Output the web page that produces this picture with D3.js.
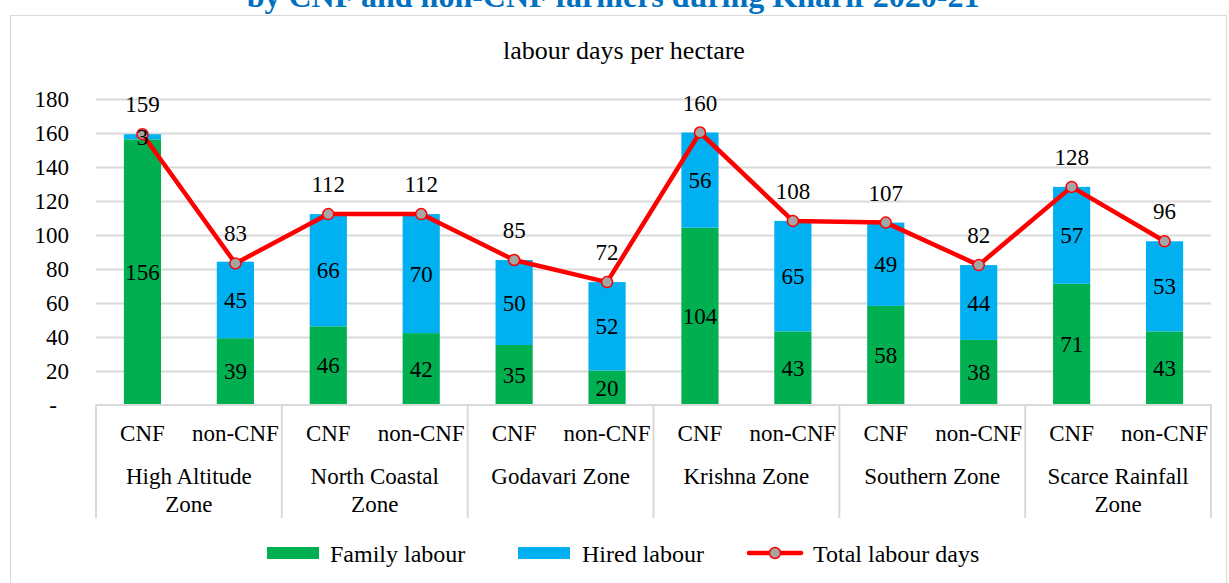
<!DOCTYPE html>
<html>
<head>
<meta charset="utf-8">
<script src="https://cdn.jsdelivr.net/npm/d3@7"></script>
<style>
  body { margin: 0; background: #fff; }
  svg { display: block; font-family: "Liberation Serif", "Times New Roman", serif; }
</style>
</head>
<body>
<svg id="chart" width="1229" height="583"></svg>
<script>
var zones = ["High Altitude Zone", "North Coastal Zone", "Godavari Zone",
             "Krishna Zone", "Southern Zone", "Scarce Rainfall Zone"];
var farmTypes = ["CNF", "non-CNF"];
// per zone: CNF then non-CNF
var family = [156, 39, 46, 42, 35, 20, 104, 43, 58, 38, 71, 43];
var hired  = [3, 45, 66, 70, 50, 52, 56, 65, 49, 44, 57, 53];
var total  = [159, 83, 112, 112, 85, 72, 160, 108, 107, 82, 128, 96];
var yTicks = [0, 20, 40, 60, 80, 100, 120, 140, 160, 180];

var green = "#00B050", blue = "#00B0F0", red = "#FF0000", grid = "#D9D9D9";

var svg = d3.select("#chart");

var plotLeft = 96, plotRight = 1211, plotTop = 98.5, plotBottom = 404.5;

var rows = [];
zones.forEach(function(z, i) {
  farmTypes.forEach(function(t, j) {
    var k = i * 2 + j;
    rows.push({zone: z, type: t, family: family[k], hired: hired[k], total: total[k]});
  });
});

var x0 = d3.scaleBand().domain(zones).range([plotLeft, plotRight]);
var x1 = d3.scaleBand().domain(farmTypes).range([0, x0.bandwidth()])
    .paddingInner(0.6).paddingOuter(0.3);
var y = d3.scaleLinear().domain([0, 180]).range([plotBottom, plotTop]);

function cx(d) { return x0(d.zone) + x1(d.type) + x1.bandwidth() / 2; }

// chart border
svg.append("rect")
    .attr("x", 10.5).attr("y", 15.5)
    .attr("width", 1216).attr("height", 600)
    .attr("fill", "none").attr("stroke", grid);

// title (clipped at the top)
svg.append("text")
    .attr("x", 613).attr("y", 7)
    .attr("text-anchor", "middle")
    .attr("font-size", 32).attr("font-weight", "bold")
    .attr("fill", "#0070C0")
    .text("by CNF and non-CNF farmers during Kharif 2020-21");

svg.append("text")
    .attr("x", 624).attr("y", 59)
    .attr("text-anchor", "middle")
    .attr("font-size", 26)
    .text("labour days per hectare");

// gridlines
svg.append("g")
  .selectAll("line")
  .data(yTicks.slice(1))
  .enter().append("line")
    .attr("x1", plotLeft).attr("x2", plotRight)
    .attr("y1", function(d) { return Math.round(y(d)) + 0.5; })
    .attr("y2", function(d) { return Math.round(y(d)) + 0.5; })
    .attr("stroke", grid).attr("stroke-width", 2);

// y axis
var yAxis = svg.append("g")
    .attr("transform", "translate(69,0)")
    .call(d3.axisLeft(y).tickValues(yTicks).tickSize(0)
      .tickFormat(function(d) { return d === 0 ? "-" : d; }));
yAxis.select(".domain").remove();
yAxis.selectAll("text")
    .attr("x", 0).attr("dy", "0.35em")
    .attr("font-size", 23).attr("font-family", "Liberation Serif")
    .attr("fill", "#000");
yAxis.selectAll(".tick").filter(function(d) { return d === 0; })
  .select("text").attr("x", -12);

// bars
var bars = svg.append("g");
bars.selectAll(".fam")
    .data(rows)
  .enter().append("rect")
    .attr("x", function(d) { return x0(d.zone) + x1(d.type); })
    .attr("width", x1.bandwidth())
    .attr("y", function(d) { return y(d.family); })
    .attr("height", function(d) { return y(0) - y(d.family); })
    .attr("fill", green);
bars.selectAll(".hir")
    .data(rows)
  .enter().append("rect")
    .attr("x", function(d) { return x0(d.zone) + x1(d.type); })
    .attr("width", x1.bandwidth())
    .attr("y", function(d) { return y(d.family + d.hired); })
    .attr("height", function(d) { return y(d.family) - y(d.family + d.hired); })
    .attr("fill", blue);

// x axis
svg.append("line")
    .attr("x1", plotLeft).attr("x2", plotRight)
    .attr("y1", plotBottom + 0.5).attr("y2", plotBottom + 0.5)
    .attr("stroke", grid).attr("stroke-width", 2);
svg.append("g")
  .selectAll("line")
  .data(zones.concat(["end"]))
  .enter().append("line")
    .attr("x1", function(d) { return d === "end" ? plotRight : x0(d); })
    .attr("x2", function(d) { return d === "end" ? plotRight : x0(d); })
    .attr("y1", plotBottom).attr("y2", 518)
    .attr("stroke", grid).attr("stroke-width", 2);

svg.append("g")
  .selectAll("text")
  .data(rows)
  .enter().append("text")
    .attr("x", cx).attr("y", 441)
    .attr("text-anchor", "middle").attr("font-size", 23)
    .text(function(d) { return d.type; });

var zoneLabels = svg.append("g")
  .selectAll("text")
  .data(zones)
  .enter().append("text")
    .attr("x", function(d) { return x0(d) + x0.bandwidth() / 2; })
    .attr("y", 484)
    .attr("text-anchor", "middle").attr("font-size", 23);
zoneLabels.each(function(d) {
  var lines = d.length > 13 ? [d.replace(/ Zone$/, ""), "Zone"] : [d];
  d3.select(this).selectAll("tspan")
    .data(lines)
    .enter().append("tspan")
      .attr("x", x0(d) + x0.bandwidth() / 2)
      .attr("dy", function(l, i) { return i ? 28 : 0; })
      .text(function(l) { return l; });
});

// total line
var line = d3.line()
    .x(cx)
    .y(function(d) { return y(d.total); });
svg.append("path")
    .datum(rows)
    .attr("d", line)
    .attr("fill", "none")
    .attr("stroke", red).attr("stroke-width", 4.5)
    .attr("stroke-linejoin", "round");
svg.append("g")
  .selectAll("circle")
  .data(rows)
  .enter().append("circle")
    .attr("cx", cx)
    .attr("cy", function(d) { return y(d.total); })
    .attr("r", 5.5)
    .attr("fill", "#A5A5A5").attr("stroke", red).attr("stroke-width", 1.5);

// value labels, drawn over the line
var labels = svg.append("g").attr("font-size", 23).attr("text-anchor", "middle");
labels.selectAll(".lf")
    .data(rows)
  .enter().append("text")
    .attr("x", cx)
    .attr("y", function(d) { return y(d.family / 2) + 8; })
    .text(function(d) { return d.family; });
labels.selectAll(".lh")
    .data(rows)
  .enter().append("text")
    .attr("x", cx)
    .attr("y", function(d) { return y(d.family + d.hired / 2) + 8; })
    .text(function(d) { return d.hired; });
labels.selectAll(".lt")
    .data(rows)
  .enter().append("text")
    .attr("x", cx)
    .attr("y", function(d) { return y(d.total) - 22; })
    .text(function(d) { return d.total; });

// legend
var legend = svg.append("g").attr("font-size", 24);
legend.append("rect").attr("x", 267).attr("y", 547).attr("width", 52).attr("height", 12).attr("fill", green);
legend.append("text").attr("x", 330).attr("y", 562).text("Family labour");
legend.append("rect").attr("x", 518).attr("y", 547).attr("width", 52).attr("height", 12).attr("fill", blue);
legend.append("text").attr("x", 582).attr("y", 562).text("Hired labour");
legend.append("line").attr("x1", 749).attr("x2", 801).attr("y1", 553).attr("y2", 553)
    .attr("stroke", red).attr("stroke-width", 4.5).attr("stroke-linecap", "round");
legend.append("circle").attr("cx", 775).attr("cy", 553).attr("r", 5.5)
    .attr("fill", "#A5A5A5").attr("stroke", red).attr("stroke-width", 1.5);
legend.append("text").attr("x", 813).attr("y", 562).text("Total labour days");
</script>
</body>
</html>
